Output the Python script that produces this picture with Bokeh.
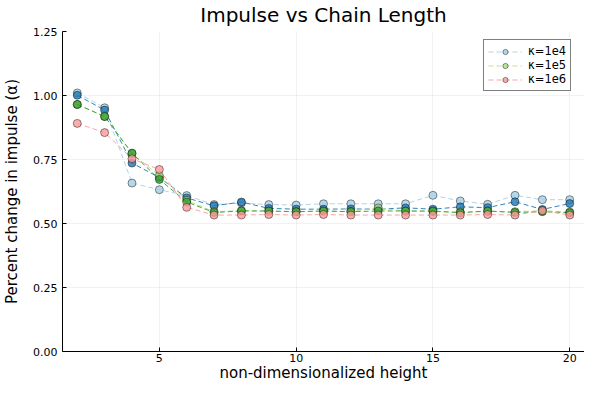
from bokeh.plotting import figure
from bokeh.embed import file_html
from bokeh.resources import INLINE
from bokeh.models import FixedTicker, PrintfTickFormatter, Range1d, Legend, LegendItem

x = list(range(2, 21))

k1e4 = [1.010, 0.952, 0.658, 0.632, 0.609, 0.574, 0.580, 0.574, 0.572, 0.577,
        0.577, 0.577, 0.577, 0.610, 0.588, 0.575, 0.610, 0.593, 0.593]
k1e4_b = [1.001, 0.943, 0.736, 0.680, 0.600, 0.569, 0.584, 0.559, 0.556, 0.556,
          0.557, 0.556, 0.561, 0.556, 0.565, 0.562, 0.585, 0.555, 0.578]
k1e5 = [0.965, 0.918, 0.773, 0.687, 0.590, 0.546, 0.550, 0.548, 0.546, 0.548,
        0.547, 0.561, 0.548, 0.546, 0.545, 0.547, 0.546, 0.550, 0.545]
k1e5_b = [0.965, 0.918, 0.775, 0.672, 0.584, 0.543, 0.549, 0.549, 0.546, 0.549,
          0.546, 0.549, 0.549, 0.549, 0.542, 0.549, 0.543, 0.546, 0.542]
k1e6 = [0.891, 0.855, 0.753, 0.711, 0.563, 0.533, 0.533, 0.535, 0.533, 0.535,
        0.533, 0.533, 0.533, 0.533, 0.533, 0.535, 0.533, 0.550, 0.533]

series = [
    ("κ=1e4", k1e4, "#a6cee3"),
    ("", k1e4_b, "#1f78b4"),
    ("κ=1e5", k1e5, "#b2df8a"),
    ("", k1e5_b, "#33a02c"),
    ("κ=1e6", k1e6, "#fb9a99"),
]

y_ticks = [0.0, 0.25, 0.5, 0.75, 1.0, 1.25]
x_ticks = [5, 10, 15, 20]

FONT = "DejaVu Sans"

p = figure(width=584, height=384, output_backend="svg", toolbar_location=None,
           x_range=Range1d(1.46, 20.54), y_range=Range1d(0, 1.25),
           min_border_left=60, min_border_right=0, min_border_top=31,
           min_border_bottom=31)
p.outline_line_color = None

p.title.text = "Impulse vs Chain Length"
p.title.align = "center"
p.title.vertical_align = "top"
p.title.text_font = FONT
p.title.text_font_size = "20px"
p.title.text_font_style = "normal"
p.title.text_color = "black"
p.title.standoff = 5

items = []
for label, ys, color in series:
    ln = p.line(x, ys, line_color=color, line_width=1, line_dash="5 3", line_alpha=0.9)
    sc = p.scatter(x, ys, size=8, fill_color=color, fill_alpha=0.8,
                   line_color="black", line_alpha=0.55, line_width=0.8)
    if label:
        items.append(LegendItem(label=label, renderers=[ln, sc]))

legend = Legend(items=items)
legend.label_text_font = FONT
legend.label_text_font_size = "11.5px"
legend.label_text_color = "black"
legend.glyph_width = 34
legend.glyph_height = 13
legend.label_height = 13
legend.spacing = 0
legend.padding = 4
legend.margin = 0
legend.label_standoff = 6
legend.border_line_color = "black"
legend.border_line_width = 1
legend.background_fill_alpha = 1
legend.location = (421, 260)
p.add_layout(legend)

for ax in (p.xaxis[0], p.yaxis[0]):
    ax.axis_line_color = "black"
    ax.major_tick_in = 4
    ax.major_tick_out = 0
    ax.minor_tick_line_color = None
    ax.major_label_text_font = FONT
    ax.major_label_text_font_size = "11px"
    ax.major_label_text_color = "black"
    ax.axis_label_text_font = FONT
    ax.axis_label_text_font_size = "15px"
    ax.axis_label_text_font_style = "normal"
    ax.axis_label_text_color = "black"

p.xaxis[0].ticker = FixedTicker(ticks=x_ticks)
p.yaxis[0].ticker = FixedTicker(ticks=y_ticks)
p.yaxis[0].formatter = PrintfTickFormatter(format="%.2f")
p.xaxis[0].axis_label = "non-dimensionalized height"
p.yaxis[0].axis_label = "Percent change in impulse (α)"
p.xaxis[0].major_label_standoff = 2
p.yaxis[0].major_label_standoff = 5
p.xaxis[0].axis_label_standoff = -1
p.yaxis[0].axis_label_standoff = 9

p.xgrid[0].ticker = FixedTicker(ticks=x_ticks)
p.ygrid[0].ticker = FixedTicker(ticks=y_ticks)
for g in (p.xgrid[0], p.ygrid[0]):
    g.grid_line_color = "black"
    g.grid_line_alpha = 0.1
    g.grid_line_width = 0.5

open("out.html", "w").write(file_html(p, INLINE))
